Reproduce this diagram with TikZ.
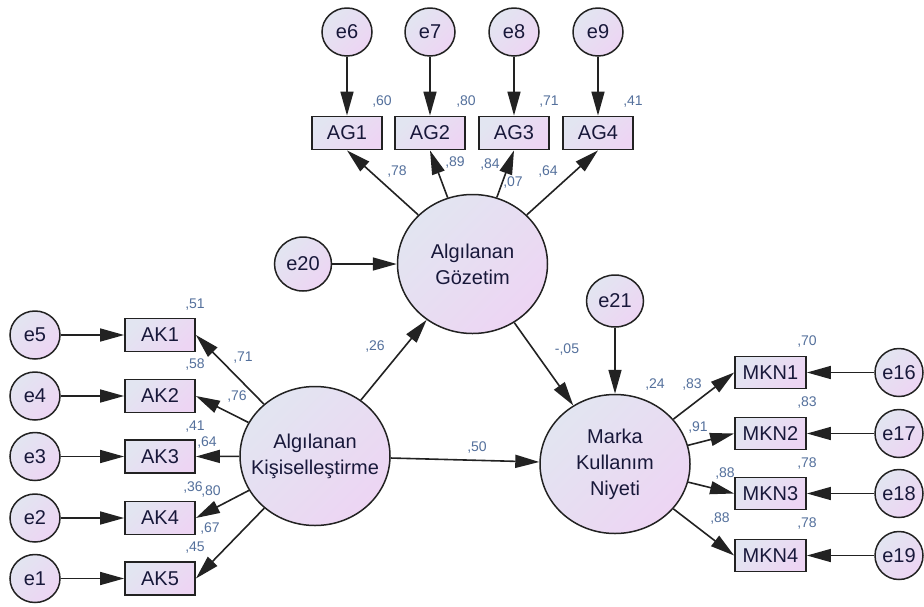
\documentclass[tikz,border=0pt]{standalone}
\usepackage{fontspec}
\setmainfont{Liberation Sans}
\usetikzlibrary{arrows.meta,shapes.geometric}

\definecolor{fillA}{RGB}{226,229,241}
\definecolor{fillB}{RGB}{237,213,243}
\definecolor{coefc}{RGB}{84,112,156}
\definecolor{ink}{RGB}{24,24,58}
\definecolor{edgec}{RGB}{34,34,34}

\tikzset{
  softfill/.style={top color=fillA, bottom color=fillB, shading angle=45},
  obs/.style={rectangle, draw=edgec, line width=1.8pt, softfill,
    minimum width=70pt, minimum height=33pt, inner sep=0pt,
    font=\fontsize{20}{24}\selectfont, text=ink},
  err/.style={ellipse, draw=edgec, line width=1.5pt, softfill,
    minimum width=50pt, minimum height=48pt, inner sep=0pt,
    font=\fontsize{20}{24}\selectfont, text=ink},
  bigerr/.style={err, minimum width=57pt, minimum height=54pt},
  latent/.style={ellipse, draw=edgec, line width=1.5pt, softfill,
    minimum width=150pt, minimum height=139pt, inner sep=0pt},
  lattext/.style={align=center, font=\fontsize{20}{26}\selectfont, text=ink, inner sep=0pt},
  arr/.style={draw=edgec, line width=1.6pt, -{Triangle[length=24pt,width=13pt]}},
  coef/.style={font=\fontsize{14}{16}\selectfont, text=coefc, inner sep=0pt},
}

\begin{document}
\begin{tikzpicture}[x=1pt,y=-1pt]
\useasboundingbox (0,0) rectangle (924,606);
\fill[white] (0,0) rectangle (924,606);

% latent variables
\node[latent, label={[lattext]center:{Algılanan\\Gözetim}}] (AG) at (472.5,264) {};
\node[latent, label={[lattext]center:{Algılanan\\Kişiselleştirme}}] (AK) at (315,456) {};
\node[latent, label={[lattext]center:{Marka\\Kullanım\\Niyeti}}] (MKN) at (615,464) {};

% Algılanan Gözetim indicators
\foreach \i/\x/\e in {1/347/e6, 2/430/e7, 3/514/e8, 4/598/e9}{
  \node[obs] (AG\i) at (\x,133) {AG\i};
  \node[err] (\e) at (\x,32) {\e};
  \draw[arr] (\e) -- (AG\i);
  \draw[arr] (AG) -- (AG\i.south);
}

% Algılanan Kişiselleştirme indicators
\foreach \i/\y/\e in {1/335/e5, 2/396/e4, 3/456.5/e3, 4/518/e2, 5/578.5/e1}{
  \node[obs] (AK\i) at (160,\y) {AK\i};
  \node[err] (\e) at (35,\y) {\e};
  \draw[arr] (\e) -- (AK\i);
  \draw[arr] (AK) -- (AK\i.east);
}

% Marka Kullanım Niyeti indicators
\foreach \i/\y/\e in {1/372.5/e16, 2/433.5/e17, 3/493.5/e18, 4/555.5/e19}{
  \node[obs, minimum width=71pt, minimum height=32pt] (MKN\i) at (770.5,\y) {MKN\i};
  \node[err, minimum width=48pt] (\e) at (899,\y) {\e};
  \draw[arr] (\e) -- (MKN\i);
  \draw[arr] (MKN) -- (MKN\i.west);
}

% disturbances
\node[bigerr] (e20) at (303,264) {e20};
\node[bigerr, minimum height=52pt] (e21) at (615,301) {e21};
\draw[arr] (e20) -- (AG);
\draw[arr] (e21) -- (MKN);

% structural paths
\draw[arr] (AK) -- (AG);
\draw[arr] (AK) -- (MKN);
\draw[arr] (AG) -- (MKN);

% squared multiple correlations and loadings
\node[coef] (r1) at (382,102) {,60};
\node[coef] (r2) at (466,102) {,80};
\node[coef] (r3) at (549,102) {,71};
\node[coef] (r4) at (633,102) {,41};
\node[coef] (l1) at (397,172) {,78};
\node[coef] (l2) at (455,163) {,89};
\node[coef] (l3) at (490,165) {,84};
\node[coef] (l4) at (548,172) {,64};
\node[coef] (rAG) at (513,183) {,07};

\node[coef] (r5) at (195,305) {,51};
\node[coef] (r6) at (195,365) {,58};
\node[coef] (r7) at (195,427) {,41};
\node[coef] (r8) at (193,487) {,36};
\node[coef] (r9) at (195,548) {,45};
\node[coef] (l5) at (243,358) {,71};
\node[coef] (l6) at (237,396) {,76};
\node[coef] (l7) at (207,442) {,64};
\node[coef] (l8) at (211,491) {,80};
\node[coef] (l9) at (210,528) {,67};

\node[coef] (p1) at (375,347) {,26};
\node[coef] (p2) at (477,447) {,50};
\node[coef] (p3) at (567,350) {-,05};

\node[coef] (r10) at (807,342) {,70};
\node[coef] (r11) at (807,402) {,83};
\node[coef] (r12) at (807,463) {,78};
\node[coef] (r13) at (807,523) {,78};
\node[coef] (rMKN) at (655,384) {,24};
\node[coef] (l10) at (692,384) {,83};
\node[coef] (l11) at (698,427) {,91};
\node[coef] (l12) at (725,473) {,88};
\node[coef] (l13) at (720,518) {,88};
\end{tikzpicture}
\end{document}
